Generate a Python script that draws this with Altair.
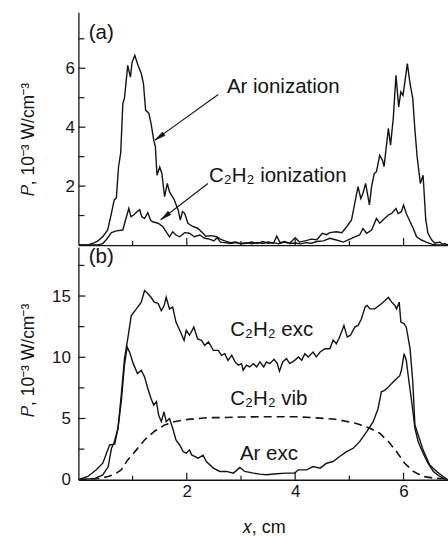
import altair as alt
import pandas as pd

# ---------------- data ----------------
# Panel (a)
ar_ion_x = [0.00, 0.18, 0.30, 0.36, 0.45, 0.54, 0.61, 0.66, 0.70, 0.74, 0.78, 0.82, 0.85, 0.91, 0.96, 0.99,
            1.04, 1.10, 1.16, 1.20, 1.24, 1.30, 1.34, 1.39, 1.42, 1.45, 1.50, 1.54, 1.59, 1.64, 1.68, 1.77,
            1.84, 1.88, 1.92, 1.96, 2.02, 2.11, 2.20, 2.30, 2.35, 2.45, 2.55, 2.62, 2.70, 2.80, 2.90, 3.00,
            3.10, 3.20, 3.30, 3.40, 3.50, 3.60, 3.66, 3.72, 3.80, 3.90, 4.00, 4.08, 4.20, 4.30, 4.40, 4.50,
            4.58, 4.64, 4.76, 4.86, 4.95, 5.04, 5.10, 5.16, 5.21, 5.25, 5.30, 5.37, 5.41, 5.46, 5.50, 5.56,
            5.61, 5.64, 5.72, 5.76, 5.81, 5.86, 5.91, 5.95, 5.99, 6.07, 6.12, 6.17, 6.21, 6.25, 6.31, 6.36,
            6.41, 6.45, 6.52, 6.58, 6.67, 6.72, 6.76, 6.82]
ar_ion_y = [0.00, 0.00, 0.08, 0.14, 0.28, 0.51, 1.08, 1.53, 1.60, 2.65, 3.12, 4.80, 4.98, 6.10, 5.70, 6.20,
            6.44, 6.10, 5.82, 5.48, 4.58, 4.47, 4.13, 3.56, 3.34, 2.37, 2.65, 2.43, 1.64, 2.09, 1.81, 1.53,
            1.19, 0.85, 1.13, 1.08, 0.74, 0.63, 0.57, 0.40, 0.30, 0.32, 0.28, 0.20, 0.14, 0.08, 0.10, 0.05,
            0.08, 0.04, 0.09, 0.05, 0.10, 0.06, 0.30, 0.08, 0.12, 0.06, 0.25, 0.10, 0.15, 0.20, 0.18, 0.40,
            0.35, 0.42, 0.45, 0.42, 0.62, 0.85, 1.42, 1.98, 1.58, 1.75, 2.09, 1.36, 1.98, 2.43, 2.49, 3.05,
            2.88, 2.66, 3.96, 3.39, 4.30, 5.76, 4.69, 5.20, 5.08, 6.16, 5.48, 4.97, 3.90, 3.00, 2.09, 2.37,
            0.85, 0.40, 0.17, 0.06, 0.10, 0.02, 0.05, 0.00]

c2h2_ion_x = [0.00, 0.36, 0.45, 0.51, 0.61, 0.70, 0.82, 0.86, 0.93, 0.97, 1.02, 1.08, 1.13, 1.17, 1.22, 1.28,
              1.33, 1.37, 1.47, 1.56, 1.62, 1.68, 1.74, 1.80, 1.87, 1.96, 2.05, 2.14, 2.24, 2.33, 2.42, 2.50,
              2.56, 2.62, 2.70, 2.80, 2.90, 3.00, 3.10, 3.20, 3.30, 3.40, 3.50, 3.60, 3.70, 3.80, 3.90, 4.00,
              4.10, 4.20, 4.30, 4.40, 4.52, 4.64, 4.76, 4.89, 5.01, 5.10, 5.19, 5.25, 5.32, 5.41, 5.50, 5.56,
              5.62, 5.72, 5.78, 5.86, 5.90, 5.96, 6.00, 6.05, 6.12, 6.18, 6.24, 6.33, 6.42, 6.52, 6.60, 6.82]
c2h2_ion_y = [0.00, 0.00, 0.05, 0.17, 0.42, 0.48, 0.51, 0.79, 1.24, 0.96, 1.02, 1.13, 1.20, 0.96, 0.90, 1.10,
              0.85, 0.79, 0.74, 0.62, 0.45, 0.28, 0.45, 0.34, 0.28, 0.42, 0.40, 0.28, 0.34, 0.23, 0.20, 0.14,
              0.25, 0.10, 0.08, 0.05, 0.08, 0.04, 0.06, 0.10, 0.05, 0.12, 0.06, 0.08, 0.04, 0.10, 0.05, 0.07,
              0.04, 0.08, 0.06, 0.12, 0.14, 0.23, 0.17, 0.10, 0.20, 0.28, 0.34, 0.56, 0.40, 0.51, 0.90, 0.74,
              0.85, 1.02, 1.07, 1.24, 1.07, 1.13, 1.36, 1.07, 0.79, 0.56, 0.28, 0.17, 0.10, 0.03, 0.00, 0.00]

# Panel (b)
c2h2_exc_x = [0.00, 0.175, 0.33, 0.45, 0.575, 0.67, 0.73, 0.79, 0.85, 0.91, 0.975, 1.07, 1.16, 1.22, 1.28,
              1.34, 1.40, 1.47, 1.53, 1.58, 1.62, 1.68, 1.74, 1.80, 1.87, 1.95, 1.99, 2.05, 2.13, 2.20, 2.27,
              2.33, 2.40, 2.49, 2.58, 2.64, 2.70, 2.76, 2.83, 2.89, 2.95, 3.01, 3.04, 3.10, 3.16, 3.23, 3.29,
              3.35, 3.42, 3.47, 3.53, 3.61, 3.67, 3.71, 3.77, 3.84, 3.90, 3.99, 4.06, 4.12, 4.18, 4.24, 4.33,
              4.39, 4.46, 4.55, 4.64, 4.70, 4.76, 4.82, 4.90, 4.96, 5.02, 5.10, 5.16, 5.22, 5.29, 5.33, 5.38,
              5.47, 5.53, 5.59, 5.65, 5.72, 5.78, 5.84, 5.87, 5.92, 5.95, 6.01, 6.05, 6.12, 6.17, 6.21, 6.27,
              6.36, 6.48, 6.61, 6.73, 6.82]
c2h2_exc_y = [0.00, 0.27, 0.81, 1.35, 2.84, 2.90, 4.20, 6.90, 9.90, 11.50, 13.40, 13.95, 14.50, 15.45, 15.20,
              14.90, 14.50, 14.40, 13.80, 14.20, 14.90, 13.95, 14.10, 12.87, 12.20, 11.38, 12.20, 11.80, 12.46,
              11.50, 11.38, 10.97, 11.25, 10.56, 10.56, 10.16, 10.29, 9.75, 10.16, 9.62, 9.35, 9.48, 8.94,
              9.35, 9.21, 9.48, 9.21, 9.62, 9.21, 9.62, 9.48, 9.83, 9.48, 8.86, 9.62, 9.89, 9.48, 9.75, 10.03,
              9.75, 10.29, 10.03, 10.43, 10.03, 10.43, 10.70, 10.70, 11.40, 11.10, 11.65, 12.60, 11.65, 11.80,
              12.46, 12.60, 13.10, 14.10, 14.23, 13.95, 13.95, 14.17, 14.37, 14.60, 14.90, 14.50, 14.23, 13.95,
              14.50, 12.87, 12.74, 12.46, 10.70, 8.00, 4.47, 3.66, 2.44, 1.22, 0.68, 0.27, 0.00]

ar_exc_x = [0.00, 0.30, 0.45, 0.55, 0.61, 0.655, 0.73, 0.79, 0.85, 0.90, 0.945, 1.01, 1.09, 1.16, 1.22, 1.28,
            1.34, 1.39, 1.44, 1.48, 1.53, 1.58, 1.62, 1.68, 1.74, 1.80, 1.87, 1.93, 1.99, 2.05, 2.09, 2.21,
            2.30, 2.36, 2.49, 2.61, 2.73, 2.86, 2.98, 3.07, 3.23, 3.35, 3.47, 3.66, 3.84, 3.99, 4.06, 4.21,
            4.33, 4.46, 4.58, 4.70, 4.82, 4.95, 5.07, 5.19, 5.32, 5.44, 5.53, 5.59, 5.65, 5.72, 5.78, 5.84,
            5.93, 5.96, 6.01, 6.05, 6.10, 6.15, 6.21, 6.27, 6.36, 6.45, 6.55, 6.67, 6.79, 6.82]
ar_exc_y = [0.00, 0.10, 0.40, 1.08, 2.57, 2.98, 4.20, 6.36, 9.35, 10.84, 10.40, 9.50, 8.67, 8.94, 8.40, 7.45,
            6.64, 6.10, 6.37, 5.28, 4.74, 5.55, 4.74, 5.00, 4.20, 3.25, 2.84, 2.30, 2.17, 2.44, 2.03, 1.76,
            2.00, 1.49, 0.95, 0.68, 0.68, 0.54, 1.00, 0.68, 0.54, 0.46, 0.41, 0.49, 0.54, 0.54, 0.81, 0.81,
            1.08, 0.95, 1.35, 1.49, 1.90, 2.30, 2.57, 3.11, 3.93, 4.74, 5.82, 7.18, 7.30, 7.58, 7.85, 8.13,
            8.50, 8.94, 10.30, 9.76, 8.00, 6.37, 4.20, 3.11, 2.17, 1.35, 0.68, 0.27, 0.00, 0.00]

vib_x = [0.00, 0.36, 0.55, 0.67, 0.79, 0.91, 1.07, 1.22, 1.41, 1.59, 1.77, 2.02, 2.39, 2.61, 3.00, 3.47,
         4.00, 4.40, 4.70, 4.82, 5.13, 5.38, 5.56, 5.72, 5.87, 6.02, 6.18, 6.36, 6.55, 6.82]
vib_y = [0.00, 0.08, 0.27, 0.46, 0.81, 1.62, 2.44, 3.25, 3.98, 4.47, 4.74, 4.93, 5.07, 5.07, 5.12, 5.15,
         5.15, 5.05, 4.96, 4.88, 4.60, 4.20, 3.80, 3.12, 2.30, 1.35, 0.68, 0.27, 0.14, 0.05]

# tick values
a_y_major = [2, 4, 6]
a_y_minor = [1, 3, 5, 7]
b_y_major = [5, 10, 15]
b_y_minor = [2.5, 7.5, 12.5, 17.5]
x_major = [2, 4, 6]
x_minor = [1, 3, 5]

# annotations
a_labels = ["(a)", "Ar ionization", "C\u2082H\u2082 ionization"]
a_label_x = [0.19, 2.74, 2.41]
a_label_y = [7.19, 5.36, 2.34]
b_labels = ["(b)", "C\u2082H\u2082 exc", "C\u2082H\u2082 vib", "Ar exc"]
b_label_x = [0.19, 2.80, 2.80, 2.98]
b_label_y = [18.2, 12.22, 6.61, 2.14]

arrow_x = [2.58, 2.39]
arrow_y = [5.11, 2.09]
arrow_x2 = [1.41, 1.52]
arrow_y2 = [3.56, 0.86]
arrow_angle = [234.6, 231.8]

# ---------------- chart ----------------
FONT = "Liberation Sans"
INK = "#141414"
W, H = 370, 233
XDOM = [0, 6.82]
YT = "\U0001D443, 10\u207b\u00b3 W/cm\u207b\u00b3"
XT = "\U0001D465, cm"
ARROW_PATH = "M0,0L0.45,2.2L-0.45,2.2Z"


def sdf(name, xs, ys):
    return pd.DataFrame({"x": xs, "y": ys, "series": name})


df_a = pd.concat([sdf("Ar ionization", ar_ion_x, ar_ion_y),
                  sdf("C2H2 ionization", c2h2_ion_x, c2h2_ion_y)])
df_b = pd.concat([sdf("C2H2 exc", c2h2_exc_x, c2h2_exc_y),
                  sdf("Ar exc", ar_exc_x, ar_exc_y)])
df_vib = sdf("C2H2 vib", vib_x, vib_y)

xs = alt.Scale(domain=XDOM, nice=False, zero=False)


def make_panel(lines, ydom, ymaj, ymin, yvals, labels, show_x, title_y, extra=None, arrows=None):
    ys = alt.Scale(domain=ydom, nice=False, zero=False)
    if show_x:
        xax = alt.Axis(values=x_major, ticks=False, tickSize=0, labelPadding=4, grid=False,
                       title=XT, titlePadding=19, titleFontSize=18, domainColor=INK,
                       domainWidth=1.3, labelFlush=False)
    else:
        xax = alt.Axis(labels=False, ticks=False, tickSize=0, grid=False, title=None,
                       domainColor=INK, domainWidth=1.3, minExtent=0)
    yax = alt.Axis(values=yvals, ticks=False, tickSize=0, labelPadding=4 if not show_x else 8,
                   grid=False, title=YT, titleX=-45, titleY=title_y, titleBaseline="alphabetic",
                   domainColor=INK, domainWidth=1.3, labelFlush=False)

    X = alt.X("x:Q", scale=xs, axis=xax)
    Y = alt.Y("y:Q", scale=ys, axis=yax)

    layers = [alt.Chart(lines).mark_line(color=INK, strokeWidth=1.4, clip=True)
              .encode(x=X, y=Y, detail="series:N")]
    if extra is not None:
        layers.append(alt.Chart(extra).mark_line(color=INK, strokeWidth=1.6, strokeDash=[8, 5], clip=True)
                      .encode(x=X, y=Y, detail="series:N"))
    # inward y ticks
    layers.append(alt.Chart(pd.DataFrame({"y": ymaj})).mark_rule(color=INK, strokeWidth=1.2)
                  .encode(y=Y, x=alt.value(0), x2=alt.value(7)))
    layers.append(alt.Chart(pd.DataFrame({"y": ymin})).mark_rule(color=INK, strokeWidth=1.2)
                  .encode(y=Y, x=alt.value(0), x2=alt.value(6)))
    # inward x ticks
    layers.append(alt.Chart(pd.DataFrame({"x": x_major})).mark_rule(color=INK, strokeWidth=1.2)
                  .encode(x=X, y=alt.value(H), y2=alt.value(H - 7)))
    layers.append(alt.Chart(pd.DataFrame({"x": x_minor})).mark_rule(color=INK, strokeWidth=1.2)
                  .encode(x=X, y=alt.value(H), y2=alt.value(H - 4)))
    # annotation text
    layers.append(alt.Chart(labels).mark_text(align="left", baseline="middle", font=FONT,
                                              fontSize=20.5, color=INK)
                  .encode(x=X, y=Y, text="label:N"))
    if arrows is not None:
        layers.append(alt.Chart(arrows).mark_rule(color=INK, strokeWidth=1.1)
                      .encode(x=X, y=Y, x2="x2:Q", y2="y2:Q"))
        heads = arrows[["x2", "y2", "angle"]].rename(columns={"x2": "x", "y2": "y"})
        layers.append(alt.Chart(heads).mark_point(shape=ARROW_PATH, filled=True, size=100,
                                                  fill=INK, stroke=INK, strokeWidth=0.5, opacity=1)
                      .encode(x=X, y=Y, angle=alt.Angle("angle:Q", scale=None)))
    return alt.layer(*layers).properties(width=W, height=H)


lab_a = pd.DataFrame({"label": a_labels, "x": a_label_x, "y": a_label_y})
lab_b = pd.DataFrame({"label": b_labels, "x": b_label_x, "y": b_label_y})
arr = pd.DataFrame({"x": arrow_x, "y": arrow_y, "x2": arrow_x2, "y2": arrow_y2, "angle": arrow_angle})

panel_a = make_panel(df_a, [0, 7.9], a_y_major, a_y_minor, a_y_major, lab_a, False, 127, arrows=arr)
panel_b = make_panel(df_b, [0, 19], b_y_major, b_y_minor, [0, 5, 10, 15], lab_b, True, 113, extra=df_vib)

chart = (
    alt.vconcat(panel_a, panel_b, spacing=0)
    .properties(padding={"left": 19.5, "top": 12, "right": 0, "bottom": 0}, background="white")
    .configure_view(stroke=None)
    .configure_axis(labelFont=FONT, labelFontSize=17, labelColor=INK, titleFont=FONT,
                    titleFontSize=17.5, titleColor=INK, titleFontWeight="normal")
)

chart.save("out.html", embed_options={"renderer": "svg", "actions": False})
